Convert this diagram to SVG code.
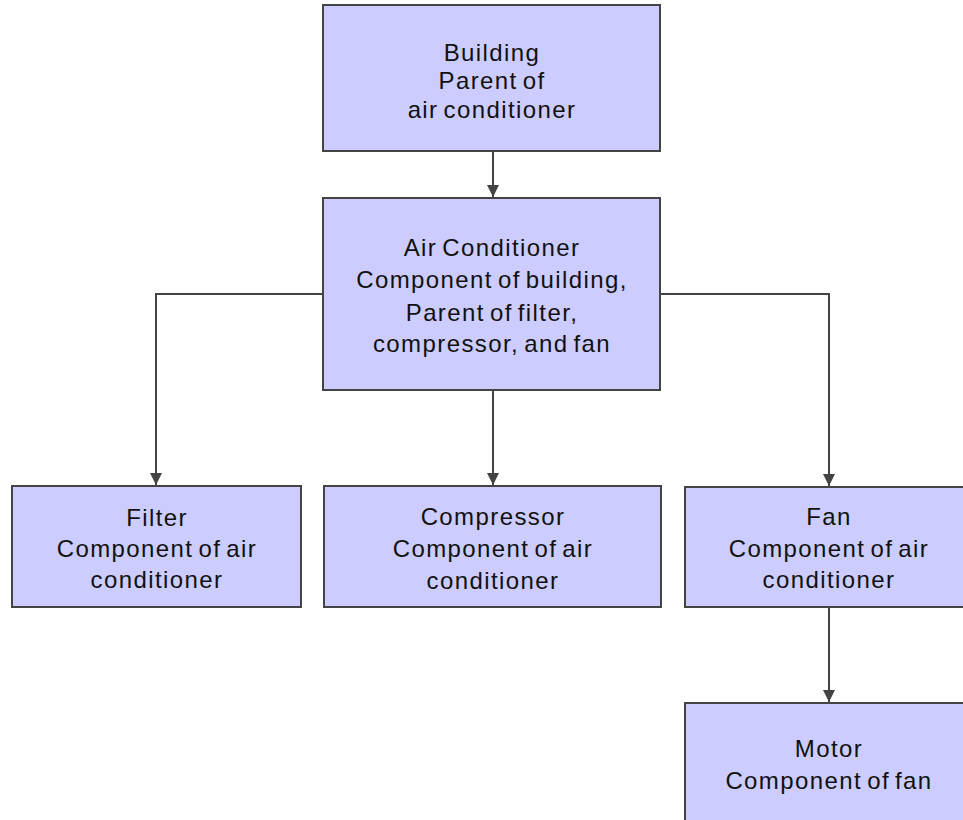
<svg xmlns="http://www.w3.org/2000/svg" width="963" height="820" viewBox="0 0 963 820">
<style>
.box{fill:#ccccff;stroke:#444444;stroke-width:2}
.t{font-family:"Liberation Sans",Arial,sans-serif;font-size:24px;fill:#111111;text-anchor:middle;letter-spacing:1.4px;word-spacing:-3px}
.c{fill:none;stroke:#444444;stroke-width:2}
</style>
<defs>
<marker id="ah" markerUnits="userSpaceOnUse" markerWidth="12" markerHeight="12" refX="10" refY="5" orient="auto" viewBox="0 0 10 10">
<path d="M0,0 L10,5 L0,10 Z" fill="#444444"/>
</marker>
</defs>
<rect width="963" height="820" fill="#ffffff"/>
<g id="connectors">
<line class="c" x1="493" y1="151" x2="493" y2="197" marker-end="url(#ah)"/>
<line class="c" x1="493" y1="390" x2="493" y2="485" marker-end="url(#ah)"/>
<polyline class="c" points="323,294 156,294 156,485" marker-end="url(#ah)"/>
<polyline class="c" points="660,294 829,294 829,486" marker-end="url(#ah)"/>
<line class="c" x1="829" y1="607" x2="829" y2="702" marker-end="url(#ah)"/>
</g>
<g id="building">
<rect class="box" x="323" y="5" width="337" height="146"/>
<text class="t" x="492" y="61">Building</text>
<text class="t" x="492" y="89">Parent of</text>
<text class="t" x="492" y="118">air conditioner</text>
</g>
<g id="air-conditioner">
<rect class="box" x="323" y="198" width="337" height="192"/>
<text class="t" x="492" y="256">Air Conditioner</text>
<text class="t" x="492" y="288">Component of building,</text>
<text class="t" x="492" y="321">Parent of filter,</text>
<text class="t" x="492" y="352">compressor, and fan</text>
</g>
<g id="filter">
<rect class="box" x="12" y="486" width="289" height="121"/>
<text class="t" x="157" y="526">Filter</text>
<text class="t" x="157" y="557">Component of air</text>
<text class="t" x="157" y="588">conditioner</text>
</g>
<g id="compressor">
<rect class="box" x="324" y="486" width="337" height="121"/>
<text class="t" x="493" y="525">Compressor</text>
<text class="t" x="493" y="557">Component of air</text>
<text class="t" x="493" y="589">conditioner</text>
</g>
<g id="fan">
<rect class="box" x="685" y="487" width="288" height="120"/>
<text class="t" x="829" y="525">Fan</text>
<text class="t" x="829" y="557">Component of air</text>
<text class="t" x="829" y="588">conditioner</text>
</g>
<g id="motor">
<rect class="box" x="685" y="703" width="288" height="130"/>
<text class="t" x="829" y="757">Motor</text>
<text class="t" x="829" y="789">Component of fan</text>
</g>
</svg>
